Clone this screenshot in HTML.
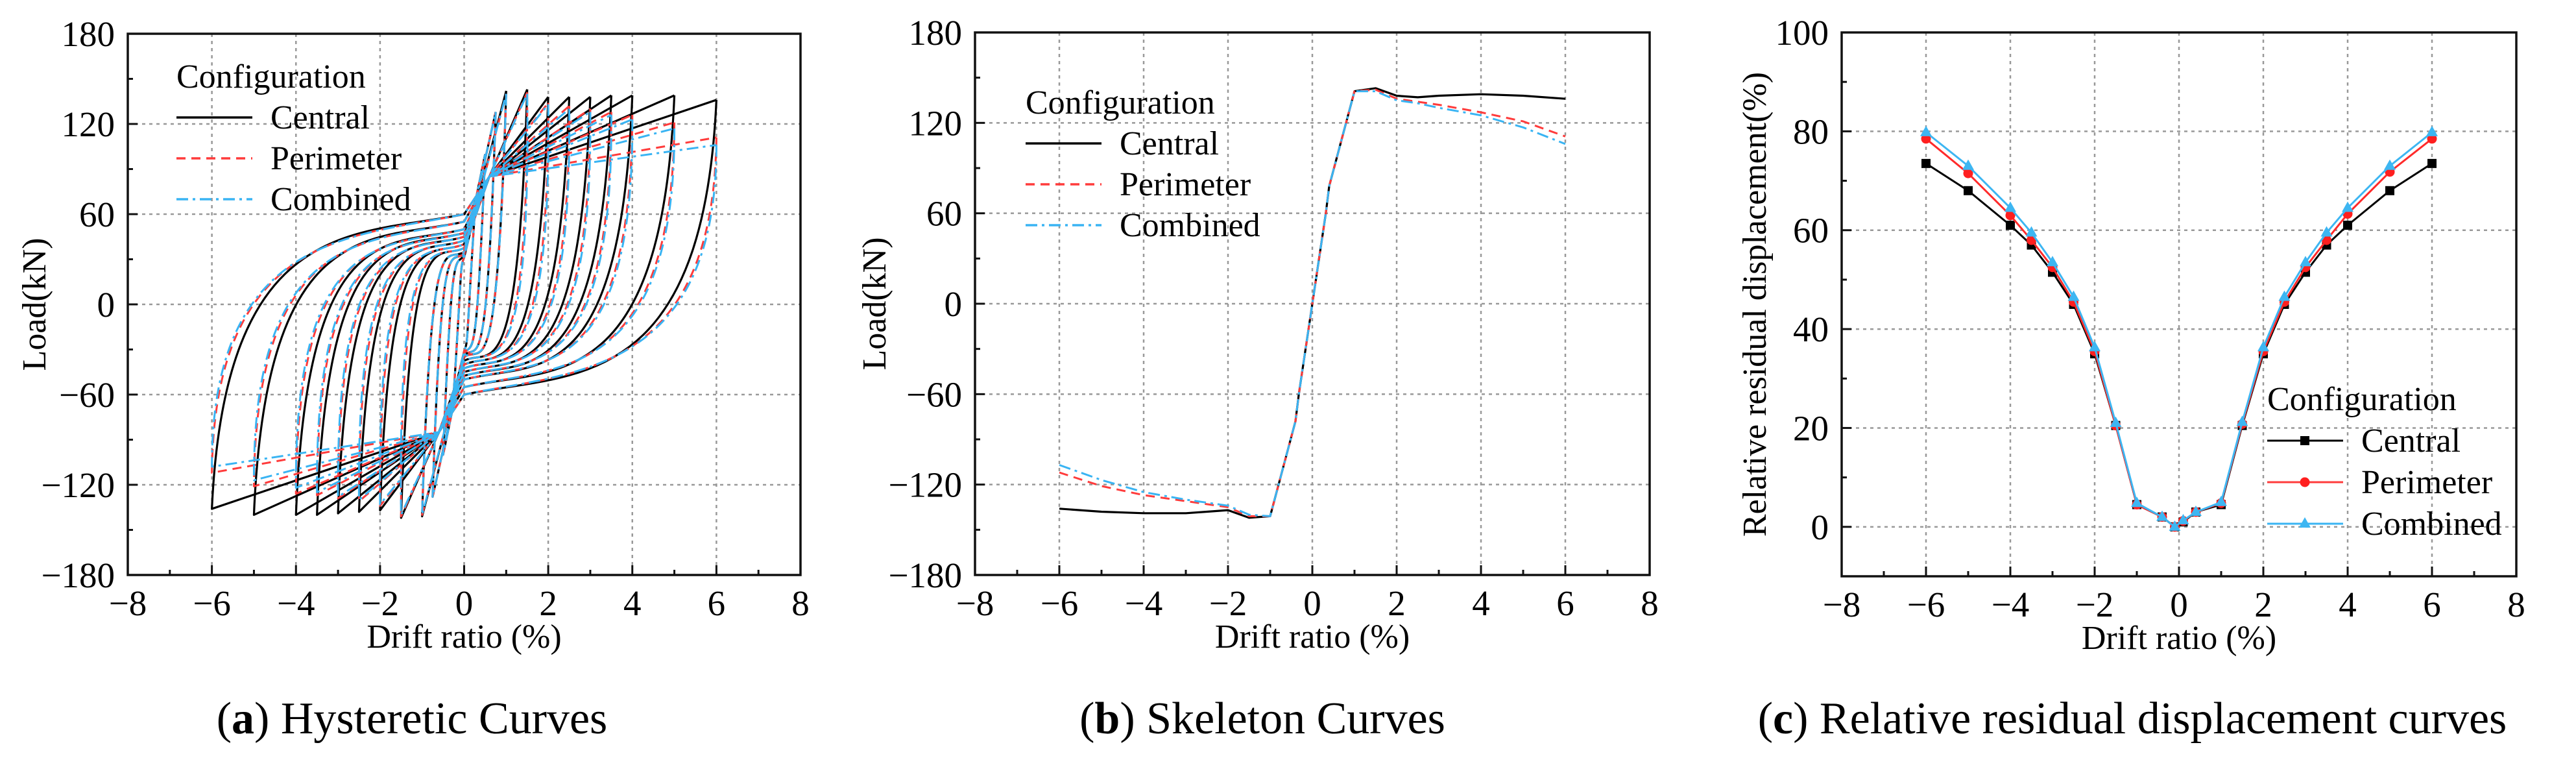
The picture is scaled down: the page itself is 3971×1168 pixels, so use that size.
<!DOCTYPE html>
<html><head><meta charset="utf-8">
<style>
html,body{margin:0;padding:0;background:#fff;}
svg{display:block;font-family:"Liberation Serif",serif;}
</style></head>
<body>
<svg id="fig" width="3971" height="1168" viewBox="0 0 3971 1168" xmlns="http://www.w3.org/2000/svg">
<rect width="3971" height="1168" fill="#fff"/>
<g id="pa"></g>
<g id="pb"></g>
<g id="pc"></g>
<text x="635" y="1130" font-size="70" text-anchor="middle">(<tspan font-weight="bold">a</tspan>) Hysteretic Curves</text>
<text x="1946" y="1130" font-size="70" text-anchor="middle">(<tspan font-weight="bold">b</tspan>) Skeleton Curves</text>
<text x="3287" y="1130" font-size="70" text-anchor="middle">(<tspan font-weight="bold">c</tspan>) Relative residual displacement curves</text>
</svg>
<script>
// ---------- data ----------
const xTicks = [-8,-6,-4,-2,0,2,4,6,8];
const loadTicks = [-180,-120,-60,0,60,120,180];
const resTicks = [0,20,40,60,80,100];
const seriesNames = ["Central","Perimeter","Combined"];

// (a) hysteresis: cycle amplitudes and peak loads
const cycleAmps = [0.25,0.5,0.75,1,1.5,2,2.5,3,3.5,4,5,6];
const centralPosPeak = [60,100,128,142,143,138,138,138,139,139,139,136];
const centralNegPeak = [-60,-100,-128,-141,-142,-137,-138,-139,-140,-140,-140,-136];
const perimPosPeak = [60,100,128,140,141,134,132,130,128,126,121,111];
const perimNegPeak = [-60,-100,-128,-140,-141,-134,-131,-129,-127,-126,-121,-112];
const combPosPeak = [60,100,128,140,140,133,130,128,126,123,117,106];
const combNegPeak = [-60,-100,-128,-140,-140,-133,-130,-128,-125,-122,-117,-108];

// (b) skeleton
const skelX = [-6,-5,-4,-3,-2.5,-2,-1.5,-1,-0.4,-0.32,0,0.32,0.4,1,1.5,2,2.5,3,4,5,6];
const skelCentral = [-136,-138,-139,-139,-138,-137,-142,-141,-78,-60,0,60,78,141,143,138,137,138,139,138,136];
const skelPerim = [-112,-121,-127,-131,-133,-135,-141,-141,-78,-60,0,60,78,141,142,136,134,132,127,121,111];
const skelComb = [-107,-117,-125,-130,-132,-134,-140,-141,-78,-60,0,60,78,141,141,135,133,130,125,117,106];

// (c) residual
const resX = [-6,-5,-4,-3.5,-3,-2.5,-2,-1.5,-1,-0.4,-0.1,0.1,0.4,1,1.5,2,2.5,3,3.5,4,5,6];
const resCentral = [73.5,68,61,57,51.5,45,35,20.5,4.5,2,0,1,3,4.5,20.5,35,45,51.5,57,61,68,73.5];
const resPerim = [78.5,71.5,63,58,52.5,45.5,35.5,20.5,4.5,2,0,1.2,3,4.8,20.8,35.5,45.5,52.5,58,63.3,71.8,78.5];
const resComb = [79.8,73,64.5,59.5,53.5,46.5,36.3,21,4.8,2,0,1.3,3,5,21.2,36.3,46.5,53.5,59.5,64.5,73,79.8];

// ---------- helpers ----------
const NS="http://www.w3.org/2000/svg";
function mk(parent,tag,attrs,text){const e=document.createElementNS(NS,tag);for(const k in attrs)e.setAttribute(k,attrs[k]);if(text!==undefined)e.textContent=text;parent.appendChild(e);return e;}
const STY={
 Central:{stroke:"#000",dash:"",w:3.2},
 Perimeter:{stroke:"#ff3b3b",dash:"14,9",w:3},
 Combined:{stroke:"#39b4f3",dash:"18,7,4,7",w:3}
};
function axes(g,P,yT,yMinor,yLabel,yLabX){
  const sx=v=>P.L+(v-P.x0)/(P.x1-P.x0)*(P.R-P.L);
  const sy=v=>P.B-(v-P.y0)/(P.y1-P.y0)*(P.B-P.T);
  P.sx=sx;P.sy=sy;
  xTicks.forEach(v=>{ if(v>P.x0&&v<P.x1){const l=mk(g,"line",{x1:sx(v),x2:sx(v),y1:P.T,y2:P.B,stroke:"#999","stroke-width":2.5,"stroke-dasharray":"5,6"});
    }});
  yT.forEach(v=>{ if(v>P.y0&&v<P.y1){const l=mk(g,"line",{x1:P.L,x2:P.R,y1:sy(v),y2:sy(v),stroke:"#999","stroke-width":2.5,"stroke-dasharray":"5,6"});
    }});
  const fr=mk(g,"rect",{x:P.L,y:P.T,width:P.R-P.L,height:P.B-P.T,fill:"none",stroke:"#111","stroke-width":3.5});
  
  for(let v=P.x0;v<=P.x1;v+=1){const maj=(v%2===0);mk(g,"line",{x1:sx(v),x2:sx(v),y1:P.B,y2:P.B-(maj?15:8),stroke:"#111","stroke-width":3});}
  for(let v=P.y0;v<=P.y1+0.01;v+=yMinor){const maj=yT.indexOf(v)>=0;mk(g,"line",{x1:P.L,x2:P.L+(maj?15:8),y1:sy(v),y2:sy(v),stroke:"#111","stroke-width":3});}
  xTicks.forEach(v=>{const t=mk(g,"text",{x:sx(v),y:P.B+62,"font-size":55,"text-anchor":"middle"},(v<0?"\u2212"+(-v):""+v));
    });
  yT.forEach(v=>{const t=mk(g,"text",{x:P.L-20,y:sy(v)+19,"font-size":55,"text-anchor":"end"},(v<0?"\u2212"+(-v):""+v));
    });
  const xt=mk(g,"text",{x:(P.L+P.R)/2,y:P.B+112,"font-size":52,"text-anchor":"middle"},"Drift ratio (%)");
  
  const yc=(P.T+P.B)/2;
  const yt=mk(g,"text",{x:yLabX,y:yc,"font-size":52,"text-anchor":"middle",transform:`rotate(-90 ${yLabX} ${yc})`},yLabel);
  
}
function legend(g,x,y,step,markers){
  const t=mk(g,"text",{x:x,y:y,"font-size":52},"Configuration");
  
  seriesNames.forEach((n,i)=>{
    const s=STY[n];const ly=y+step*(i+1)-17;
    const e=mk(g,"g",{});
    
    mk(e,"line",{x1:x,x2:x+117,y1:ly,y2:ly,stroke:s.stroke,"stroke-width":markers?3:3.5,"stroke-dasharray":markers?"":s.dash});
    if(markers)marker(e,n,x+58,ly);
    mk(e,"text",{x:x+145,y:y+step*(i+1),"font-size":52},n);
  });
}
function marker(g,n,x,y){
  if(n==="Central")return mk(g,"rect",{x:x-7,y:y-7,width:14,height:14,fill:"#000"});
  if(n==="Perimeter")return mk(g,"circle",{cx:x,cy:y,r:7.5,fill:"#ff1f1f"});
  return mk(g,"path",{d:`M${x},${y-10}L${x+9},${y+6}L${x-9},${y+6}Z`,fill:"#3db6f2"});
}

// ---------- panel a ----------
const A={L:197,R:1234,T:52,B:886,x0:-8,x1:8,y0:-180,y1:180};
const ga=document.getElementById("pa");
axes(ga,A,loadTicks,30,"Load(kN)",70);
function loopPath(P,d,pp,pn,sh){
  const sx=P.sx,sy=P.sy;
  const z1=-(30+5*d), z2=(30+5*d);
  function half(sign,peak,zv,opp){
    const a=[sign*d,peak];
    const c1=[sign*(d-0.2-0.02*d+sh),-sign*Math.abs(peak)*0.45];
    const c2=[sign*0.42*d,zv*0.75];
    const e=[0,zv];
    let seg=`L${sx(a[0])},${sy(a[1])} C${sx(c1[0])},${sy(c1[1])} ${sx(c2[0])},${sy(c2[1])} ${sx(e[0])},${sy(e[1])}`;
    if(d>=1.5){const pin=[-sign*0.6,-sign*85];seg+=` L${sx(pin[0])},${sy(pin[1])}`;}
    seg+=` L${sx(-sign*d)},${sy(opp)}`;
    return seg;
  }
  return "M"+sx(d)+","+sy(pp)+" "+half(1,pp,z1,pn)+" "+half(-1,pn,z2,pp);
}
const hystSeries=[["Central",centralPosPeak,centralNegPeak,0],["Perimeter",perimPosPeak,perimNegPeak,0.25],["Combined",combPosPeak,combNegPeak,0.32]];
hystSeries.forEach(([n,pp,pn,sh])=>{
  const s=STY[n];
  const grp=mk(ga,"g",{});
  
  
  cycleAmps.forEach((d,i)=>{
    const p=mk(grp,"path",{d:loopPath(A,d,pp[i],pn[i],d<1.5?0:sh),fill:"none",stroke:s.stroke,"stroke-width":s.w,"stroke-dasharray":s.dash,"stroke-linejoin":"round"});
    
    
  });
});
legend(ga,272,135,63,false);

// ---------- panel b ----------
const Bp={L:1503,R:2543,T:50,B:886,x0:-8,x1:8,y0:-180,y1:180};
const gb=document.getElementById("pb");
axes(gb,Bp,loadTicks,30,"Load(kN)",1365);
[["Central",skelCentral],["Perimeter",skelPerim],["Combined",skelComb]].forEach(([n,vals])=>{
  const s=STY[n];
  const d=skelX.map((x,i)=>(i?"L":"M")+Bp.sx(x)+","+Bp.sy(vals[i])).join(" ");
  const p=mk(gb,"path",{d:d,fill:"none",stroke:s.stroke,"stroke-width":s.w,"stroke-dasharray":s.dash,"stroke-linejoin":"round"});
  
  
});
legend(gb,1581,175,63,false);

// ---------- panel c ----------
const Cp={L:2839,R:3879,T:50,B:888,x0:-8,x1:8,y0:-10,y1:100};
const gc=document.getElementById("pc");
axes(gc,Cp,resTicks,10,"Relative residual displacement(%)",2722);
const resCols={Central:"#000",Perimeter:"#ff2a2a",Combined:"#3db6f2"};
[["Central",resCentral],["Perimeter",resPerim],["Combined",resComb]].forEach(([n,vals])=>{
  const g=mk(gc,"g",{});
  
  
  const d=resX.map((x,i)=>(i?"L":"M")+Cp.sx(x)+","+Cp.sy(vals[i])).join(" ");
  const p=mk(g,"path",{d:d,fill:"none",stroke:resCols[n],"stroke-width":3,"stroke-linejoin":"round"});
  
  
  resX.forEach((x,i)=>{const m=marker(g,n,Cp.sx(x),Cp.sy(vals[i]));
    
    });
});
legend(gc,3495,632,64,true);
</script>
</body></html>
